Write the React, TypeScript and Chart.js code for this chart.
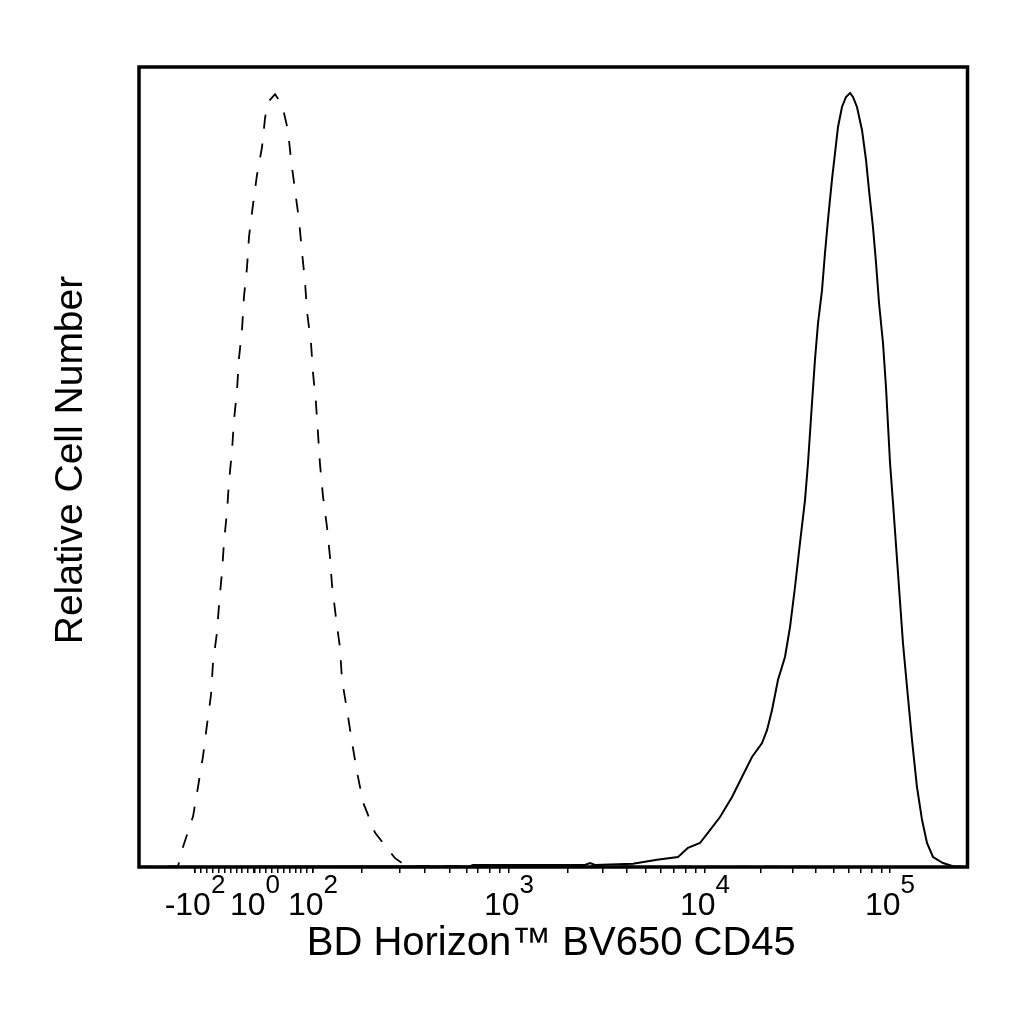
import React, { useEffect, useRef } from "react";
import { Chart, registerables } from "chart.js";

Chart.register(...registerables);

// x values are in display (channel) units of the biexponential axis, 0..1000
const isotypeX = [0, 47.1, 49.5, 53.1, 65.2, 71.2, 77.2, 82.1, 86.9, 89.3, 94.1, 96.6, 100.2, 102.6, 106.2, 108.6, 112.3, 114.7, 118.3, 120.7, 124.3, 126.7, 130.4, 132.8, 137.6, 142.4, 148.5, 152.1, 155.7, 164.2, 172.6, 179.8, 183.5, 188.3, 193.1, 196.7, 200.4, 202.8, 207.6, 210.0, 213.6, 216.0, 218.5, 222.1, 226.9, 230.5, 232.9, 237.8, 242.6, 245.0, 251.1, 257.1, 263.1, 270.4, 284.8, 309.0, 318.6, 333.1, 1000];
const isotypeY = [0, 0.1, 1.1, 2.5, 6.3, 10.0, 13.8, 17.8, 21.5, 25.5, 29.3, 32.8, 36.9, 40.6, 44.4, 48.1, 52.1, 55.9, 59.6, 63.6, 67.1, 71.3, 75.0, 78.8, 82.8, 86.5, 90.0, 93.6, 95.6, 96.6, 95.3, 92.1, 88.4, 84.6, 80.9, 76.9, 73.1, 69.4, 65.5, 61.8, 58.0, 54.3, 50.3, 46.3, 42.5, 38.8, 35.3, 31.1, 27.4, 23.4, 19.6, 15.6, 11.9, 8.1, 4.3, 1.1, 0.4, 0.1, 0];

const cd45X = [0, 399.5, 403.1, 538.3, 544.4, 550.4, 596.3, 625.2, 650.6, 662.6, 677.1, 689.2, 701.3, 715.8, 727.8, 739.9, 752.0, 758.0, 764.0, 771.3, 779.7, 785.8, 791.8, 797.8, 803.9, 807.5, 812.3, 815.9, 819.6, 824.4, 828.0, 831.6, 836.4, 840.1, 843.7, 848.5, 853.3, 858.2, 861.8, 866.6, 872.7, 877.5, 881.1, 885.9, 889.6, 893.2, 898.0, 901.6, 906.5, 910.1, 916.1, 922.1, 927.0, 933.0, 939.0, 945.1, 951.1, 958.4, 970.4, 982.5, 1000];
const cd45Y = [0, 0.1, 0.25, 0.25, 0.5, 0.25, 0.4, 0.9, 1.25, 2.4, 3.0, 4.6, 6.25, 8.75, 11.25, 13.75, 15.5, 17.1, 19.6, 23.4, 26.25, 30.0, 35.0, 40.5, 45.9, 50.5, 58.0, 63.4, 68.0, 72.1, 76.75, 80.9, 85.9, 89.25, 92.5, 95.0, 96.25, 96.75, 96.25, 95.0, 92.1, 88.4, 84.6, 80.0, 75.5, 70.5, 65.5, 60.0, 50.5, 45.5, 36.75, 28.0, 22.5, 15.9, 10.0, 5.9, 3.0, 1.25, 0.5, 0.1, 0];

// axis ticks (display units)
const majorTickValues = [67.6, 140.0, 210.0, 446.6, 683.2, 906.5];
const majorTickBase = ["-10", "10", "10", "10", "10", "10"];
const majorTickExp = ["2", "0", "2", "3", "4", "5"];
const linearMinorTicks = [67.6, 74.7, 81.8, 89.0, 96.1, 103.2, 110.3, 117.4, 124.6, 131.7, 138.8, 145.9, 153.0, 160.2, 167.3, 174.4, 181.5, 188.6, 195.8, 202.9, 210.0];
const logMinorTicks = [269.2, 315.0, 345.2, 375.4, 395.9, 409.2, 423.7, 435.7, 517.8, 560.0, 589.0, 611.9, 630.0, 645.7, 660.2, 672.3, 750.8, 789.4, 817.1, 838.9, 857.0, 871.5, 884.7, 896.2];

const xTitle = "BD Horizon\u2122 BV650 CD45";
const yTitle = "Relative Cell Number";

const FONT = "'Liberation Sans', Arial, Helvetica, sans-serif";

const framePlugin = {
  id: "frameAndLabels",
  afterDraw(chart: any) {
    const { ctx, chartArea } = chart;
    const xs = chart.scales.x;
    ctx.save();
    // frame
    ctx.strokeStyle = "#000";
    ctx.lineWidth = 3.5;
    ctx.strokeRect(chartArea.left, chartArea.top, chartArea.right - chartArea.left, chartArea.bottom - chartArea.top);

    // tick labels with superscripts
    ctx.fillStyle = "#000";
    ctx.textBaseline = "alphabetic";
    ctx.textAlign = "left";
    const baseFont = `32px ${FONT}`;
    const supFont = `26px ${FONT}`;
    const baseY = chartArea.bottom + 48;
    const supY = chartArea.bottom + 26;
    majorTickValues.forEach((v, i) => {
      const px = xs.getPixelForValue(v);
      ctx.font = baseFont;
      const wb = ctx.measureText(majorTickBase[i]).width;
      ctx.font = supFont;
      const we = ctx.measureText(majorTickExp[i]).width;
      const start = px - (wb + we) / 2;
      ctx.font = baseFont;
      ctx.fillText(majorTickBase[i], start, baseY);
      ctx.font = supFont;
      ctx.fillText(majorTickExp[i], start + wb, supY);
    });

    // x title
    ctx.font = `40px ${FONT}`;
    ctx.textAlign = "center";
    ctx.fillText(xTitle, (chartArea.left + chartArea.right) / 2 - 2, chartArea.bottom + 88);

    // y title
    ctx.font = `39px ${FONT}`;
    ctx.translate(82, (chartArea.top + chartArea.bottom) / 2 - 7);
    ctx.rotate(-Math.PI / 2);
    ctx.fillText(yTitle, 0, 0);
    ctx.restore();
  },
};

export default function App() {
  const canvasRef = useRef<HTMLCanvasElement | null>(null);

  useEffect(() => {
    if (!canvasRef.current) return;
    const allTicks = [...linearMinorTicks, ...majorTickValues, ...logMinorTicks].sort((a, b) => a - b);
    const chart = new Chart(canvasRef.current, {
      type: "line",
      data: {
        datasets: [
          {
            label: "Isotype control",
            data: isotypeX.map((x, i) => ({ x, y: isotypeY[i] })),
            borderColor: "#000",
            borderWidth: 1.8,
            borderDash: [14, 15],
            pointRadius: 0,
            tension: 0,
            fill: false,
          },
          {
            label: "CD45",
            data: cd45X.map((x, i) => ({ x, y: cd45Y[i] })),
            borderColor: "#000",
            borderWidth: 2,
            pointRadius: 0,
            tension: 0,
            fill: false,
          },
        ],
      },
      options: {
        animation: false,
        responsive: true,
        maintainAspectRatio: false,
        layout: { padding: { left: 139, top: 67, right: 56.5, bottom: 0 } },
        plugins: { legend: { display: false }, tooltip: { enabled: false } },
        scales: {
          x: {
            type: "linear",
            min: 0,
            max: 1000,
            afterBuildTicks: (scale: any) => {
              scale.ticks = allTicks.map((v) => ({ value: v }));
            },
            afterFit: (scale: any) => {
              scale.height = 157;
            },
            ticks: { display: false },
            border: { display: false },
            grid: {
              display: true,
              drawOnChartArea: false,
              drawTicks: true,
              tickLength: 6,
              color: "#000",
              lineWidth: 1.5,
            },
          },
          y: {
            type: "linear",
            min: 0,
            max: 100,
            display: false,
          },
        },
      },
      plugins: [framePlugin],
    });
    return () => chart.destroy();
  }, []);

  return (
    <div style={{ position: "absolute", left: 0, top: 0, width: "1024px", height: "1024px", background: "#fff" }}>
      <canvas ref={canvasRef} />
    </div>
  );
}
